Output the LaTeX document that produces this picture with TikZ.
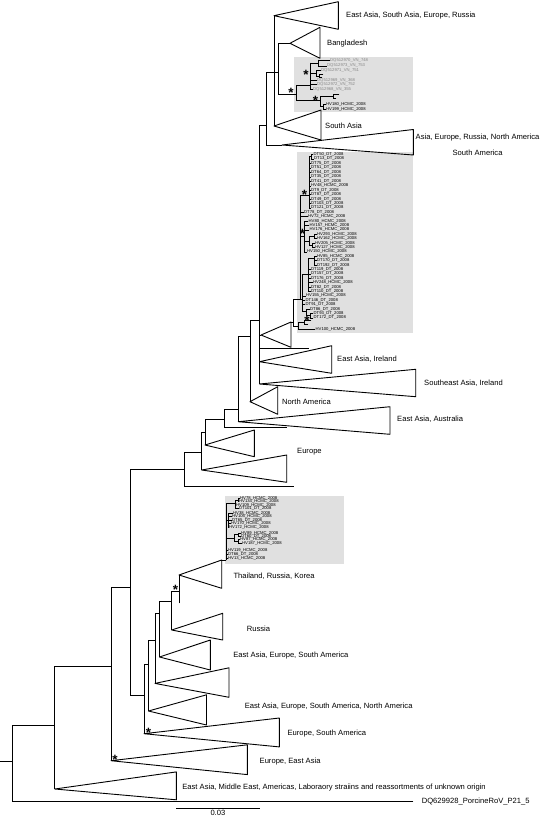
\documentclass[tikz,border=0pt]{standalone}
\usepackage{fontspec}
\setmainfont{Liberation Sans}
\definecolor{boxg}{RGB}{224,224,224}
\definecolor{vng}{RGB}{135,135,135}
\newcommand\myh[3]{\draw[tr] (#1,#3) -- (#2,#3);}
\newcommand\myv[3]{\draw[tr] (#1,#2) -- (#1,#3);}
\newcommand\mysh[3]{\draw[sm] (#1,#3) -- (#2,#3);}
\newcommand\mysv[3]{\draw[sm] (#1,#2) -- (#1,#3);}
\newcommand\mytri[5]{\draw[trg] (#1,#2) -- (#3,#4) -- (#3,#5) -- cycle;}
\newcommand\mystar[3]{\node[astx] (#1) at (#2,#3+7.6) {*};}
\newcommand\slab[4]{\node[slab] (#1) at (#2,#3) {#4};}
\newcommand\glab[4]{\node[slab,text=vng] (#1) at (#2,#3) {#4};}
\tikzset{
  tr/.style={line width=0.9pt, line cap=rect},
  trg/.style={line width=0.9pt, line join=round},
  sm/.style={line width=0.55pt, line cap=rect},
  lab/.style={anchor=west, inner sep=0pt, font=\fontsize{7.6}{16}\selectfont},
  slab/.style={anchor=west, inner sep=0pt, font=\fontsize{4.2}{5}\selectfont},
  astx/.style={anchor=base, inner sep=0pt, font=\fontsize{13.5}{13.5}\selectfont\bfseries}
}
\begin{document}
\begin{tikzpicture}[x=1pt,y=-1pt]
\useasboundingbox (0,0) rectangle (544,816);
% grey boxes
\fill[boxg] (294,57.3) rectangle (413,112.3);
\fill[boxg] (297,152.3) rectangle (413,333);
\fill[boxg] (225,496) rectangle (344,564);
% ---------- root and lower part ----------
\myh{0}{12.1}{761.4}
\myv{12.1}{725}{801.5}
\myh{12.1}{413}{801.5}
\myh{12.1}{54.8}{725}
\myv{54.8}{666}{789}
\mytri{54.8}{789}{176.3}{771.9}{799.8}
\myh{54.8}{111}{666}
\myv{111}{587}{760.7}
\mytri{111}{760.7}{247.4}{744.8}{774.6}
\mystar{sa}{115}{756.5}
\myh{111}{130}{587}
\myv{130}{469}{695.5}
\myh{130}{144}{695.5}
\myv{144}{664.3}{733.7}
\mytri{144}{733.7}{279.3}{718}{746.9}
\mystar{sb}{148.5}{729.5}
\myh{144}{148.5}{664.3}
\myv{148.5}{640}{711}
\mytri{148.5}{711}{206.5}{694.8}{725}
\myh{148.5}{155}{640}
\myv{155}{613}{683.4}
\mytri{155}{683.4}{229}{667.8}{697.3}
\myh{155}{159.5}{613}
\myv{159.5}{601}{657}
\mytri{159.5}{657}{210.3}{640}{670}
\myh{159.5}{171.7}{601}
\myv{171.7}{591}{630}
\mytri{171.7}{630}{222.7}{613.3}{640}
\myh{171.7}{179}{591}
\myv{179}{575}{603}
\mystar{sc}{175.5}{587}
\mytri{179}{575}{221.7}{560}{588.3}
\myh{221.7}{226}{560}
% ---------- middle part ----------
\myh{130}{184.3}{469}
\myv{184.3}{452.3}{486.7}
\myh{184.3}{293.3}{486.7}
\myh{184.3}{201.7}{452.3}
\myv{201.7}{432}{470}
\mytri{201.7}{470}{286.7}{455}{482.3}
\myh{201.7}{205}{432}
\myv{205}{419.3}{445}
\mytri{205}{445}{254.3}{430}{456.7}
\myh{205}{224}{419.3}
\myv{224}{409.3}{427.3}
\myh{224}{286.7}{427.3}
\myh{224}{238.3}{409.3}
\myv{238.3}{336}{421.7}
\mytri{238.3}{421.7}{390}{406.7}{434.3}
\myh{238.3}{250}{336}
\myv{250}{320}{401.7}
\mytri{250}{401.7}{277.7}{386.7}{414.3}
\myh{250}{259.5}{320}
\myv{259.5}{125}{384}
\mytri{259.5}{384}{415.7}{369.3}{396.7}
\mytri{259.5}{361.7}{331.7}{345.7}{373.3}
\myh{259.5}{308.3}{348}
\myh{259.5}{261}{335}
\mytri{261}{335}{291}{322}{347.3}
% ---------- top part ----------
\myh{259.5}{266.7}{125}
\myv{266.7}{72}{145}
\myh{266.7}{282}{145}
\mytri{282}{145}{413.3}{129.5}{155}
\myh{266.7}{278.3}{72}
\myv{274}{15.7}{126}
\mytri{274}{15.7}{338.3}{1.7}{29.3}
\mytri{274}{126}{321}{110}{140}
\myv{278.3}{43.3}{94.3}
\myh{278.3}{290}{43.3}
\mytri{290}{43.3}{320}{27.3}{58.3}
\myh{278.3}{296}{94.3}
\mystar{sd}{291}{89.5}
% ---------- box 1 ----------
\myv{296}{85}{100}
\myh{296}{310}{85}
\mystar{se}{306}{72}
\myv{310}{63}{89}
\mysh{310}{318}{63}
\mysv{318}{60}{66}
\mysh{318}{329.5}{60}
\mysh{318}{326.5}{66}
\mysh{310}{316}{73}
\mysv{316}{70}{76}
\mysh{316}{320.5}{70}
\mysh{316}{319}{76}
\mysv{319}{74.5}{77.5}
\mysh{319}{323}{74.5}
\mysh{319}{322}{77.5}
\mysh{310}{316.5}{80}
\mysh{310}{316.5}{84.5}
\mysh{310}{312.5}{89}
\glab{v1}{330}{60}{DQ512970\_VN\_748}
\glab{v2}{327}{65.5}{DQ512973\_VN\_753}
\glab{v3}{321}{70.5}{DQ512971\_VN\_751}
\glab{v4}{317}{80}{DQ512969\_VN\_368}
\glab{v5}{317}{84.5}{DQ512972\_VN\_752}
\glab{v6}{313}{89}{DQ512968\_VN\_355}
\myh{296}{320}{100}
\mystar{sf}{315.5}{97.5}
\myv{320}{96}{106.5}
\mysh{320}{333}{96}
\mysv{333}{94.5}{98.5}
\mysh{333}{339}{94.5}
\mysh{333}{336}{98.5}
\mysh{320}{323}{106.5}
\mysv{323}{104}{109}
\mysh{323}{325.5}{104}
\mysh{323}{325.5}{109}
\slab{h1}{326}{104}{HV180\_HCMC\_2008}
\slab{h2}{326}{109}{HV199\_HCMC\_2008}
% ---------- box 2 ----------
\myh{291}{293.5}{322}
\myv{293.5}{299}{326}
\myh{293.5}{302}{299}
\myv{300.5}{195}{299}
\myh{300.5}{309}{195}
\mystar{sg}{304.5}{191.5}
\myv{309}{156.5}{207.8}
\mysh{309}{311}{156.5}
\mysv{311}{154.5}{158.8}
\mysh{311}{313}{154.5}
\mysh{311}{313.5}{158.8}
\slab{b1}{313.5}{154.5}{DT50\_DT\_2008}
\slab{b2}{314}{158.8}{DT13\_DT\_2008}
\foreach \yy/\tt [count=\i] in {163.4/DT75\_DT\_2008, 167.9/DT51\_DT\_2008, 172.4/DT64\_DT\_2008, 176.9/DT35\_DT\_2008, 181.4/DT41\_DT\_2008, 185.8/HV48\_HCMC\_2008, 190.2/DT9\_DT\_2008, 194.6/DT87\_DT\_2008, 199.0/DT49\_DT\_2008, 203.4/DT103\_DT\_2008, 207.8/DT121\_DT\_2008}{
  \mysh{309}{310.5}{\yy}
  \slab{c\i}{311}{\yy}{\tt}
}
\mysh{300.5}{303.5}{212.2}
\slab{b14}{304}{212.2}{DT78\_DT\_2008}
\mysh{300.5}{307.5}{216.6}
\slab{b15}{308}{216.6}{HV72\_HCMC\_2008}
\myh{300.5}{304}{236}
\mystar{sh}{302.5}{230.5}
\myv{304}{221}{251.8}
\mysh{304}{308}{221}
\slab{b16}{308.5}{221}{HV80\_HCMC\_2008}
\mysh{304}{309}{225.4}
\slab{b17}{309.5}{225.4}{HV157\_HCMC\_2008}
\mysh{304}{309}{229.8}
\slab{b18}{309.5}{229.8}{HV176\_HCMC\_2008}
\mysh{304}{309}{240.8}
\mysv{309}{236.4}{245.2}
\mysh{309}{314}{236.4}
\mysv{314}{234.2}{238.6}
\mysh{314}{316.5}{234.2}
\mysh{314}{316.5}{238.6}
\slab{b19}{317}{234.2}{HV293\_HCMC\_2008}
\slab{b20}{317}{238.6}{HV162\_HCMC\_2008}
\mysh{309}{312}{245.2}
\mysv{312}{243}{247.4}
\mysh{312}{314.5}{243}
\mysh{312}{314.5}{247.4}
\slab{b21}{315}{243}{HV205\_HCMC\_2008}
\slab{b22}{315}{247.4}{HV127\_HCMC\_2008}
\mysh{304}{306.5}{251.8}
\slab{b23}{307}{251.8}{HV150\_HCMC\_2008}
\myv{302}{274}{311}
\mysh{302}{308}{274}
\mysv{308}{258.4}{291.4}
\mysh{308}{314}{258.4}
\mysv{314}{256.2}{265}
\foreach \yy/\tt [count=\i] in {256.2/HV85\_HCMC\_2008, 260.6/DT170\_DT\_2008, 265.0/DT192\_DT\_2008}{
  \mysh{314}{316.5}{\yy}
  \slab{d\i}{317}{\yy}{\tt}
}
\foreach \yy/\tt [count=\i] in {269.4/DT119\_DT\_2008, 273.8/DT157\_DT\_2008, 278.2/DT176\_DT\_2008, 287.0/DT82\_DT\_2008, 291.4/DT110\_DT\_2008}{
  \mysh{308}{310.5}{\yy}
  \slab{e\i}{311}{\yy}{\tt}
}
\mysh{308}{312.5}{282.6}
\slab{b30}{313}{282.6}{HV248\_HCMC\_2008}
\mysh{302}{305.5}{295.8}
\slab{b33}{306}{295.8}{HV155\_HCMC\_2008}
\mysh{302}{305}{300.2}
\slab{b34}{305.5}{300.2}{DT146\_DT\_2008}
\mysh{302}{305}{304.6}
\slab{b35}{305.5}{304.6}{DT91\_DT\_2008}
\mysh{302}{306}{311}
\mysv{306}{309}{315.6}
\mysh{306}{309.5}{309}
\slab{b36}{310}{309}{DT86\_DT\_2008}
\mysh{306}{310}{315.6}
\mysv{310}{313.4}{317.8}
\mysh{310}{313}{313.4}
\mysh{310}{313}{317.8}
\slab{b37}{313.5}{313.4}{DT93\_DT\_2008}
\slab{b38}{313.5}{317.8}{DT172\_DT\_2008}
\myh{293.5}{298}{326}
\myv{298}{322}{329}
\mysh{298}{304}{322}
\mysv{304}{320.5}{324}
\mysh{304}{311}{320.5}
\mysh{304}{308}{324}
\mystar{si}{307}{318}
\mysh{298}{315}{329}
\slab{b40}{315.5}{329}{HV100\_HCMC\_2008}
% ---------- box 3 ----------
\mysv{226}{503}{560}
\mysh{226}{235}{503}
\mysv{235}{500}{508.3}
\mysh{235}{238}{500}
\mysv{238}{498.3}{501.7}
\mysh{238}{239.5}{498.3}
\mysh{238}{238.5}{501.7}
\slab{k1}{240}{498.3}{HV78\_HCMC\_2008}
\slab{k2}{239}{501.7}{HV134\_HCMC\_2008}
\mysh{235}{235.5}{505}
\slab{k3}{236}{505}{HV109\_HCMC\_2008}
\mysh{235}{238.5}{508.3}
\slab{k4}{239}{508.3}{DT101\_DT\_2008}
\mysh{226}{228}{520}
\mysv{228}{513.3}{527.3}
\foreach \yy/\xx/\tt [count=\i] in {513.3/233/HV38\_HCMC\_2008, 516.7/232/HV105\_HCMC\_2008, 520/232/DT65\_DT\_2008, 523.3/231/HV170\_HCMC\_2008, 527.3/229/HV172\_HCMC\_2008}{
  \mysh{228}{\xx-0.5}{\yy}
  \slab{m\i}{\xx}{\yy}{\tt}
}
\mysh{226}{234}{538}
\mysv{234}{534.6}{541.3}
\mysh{234}{238}{534.6}
\mysv{238}{533.3}{536}
\mysh{238}{240.5}{533.3}
\mysh{238}{240.5}{536}
\slab{k10}{241}{533.3}{HV89\_HCMC\_2008}
\slab{k11}{241}{536.3}{DT60\_DT\_2008}
\mysh{234}{238}{541.3}
\mysv{238}{539.3}{543.3}
\mysh{238}{239.5}{539.3}
\mysh{238}{241.5}{543.3}
\slab{k12}{240}{539.3}{HV87\_HCMC\_2008}
\slab{k13}{242}{543.3}{HV187\_HCMC\_2008}
\foreach \yy/\tt [count=\i] in {550/HV119\_HCMC\_2008, 554/DT66\_DT\_2008, 558/HV13\_HCMC\_2008}{
  \mysh{226}{227.5}{\yy}
  \slab{n\i}{228}{\yy}{\tt}
}
% ---------- labels ----------
\node[lab] (l1) at (346,15.7) {East Asia, South Asia, Europe, Russia};
\node[lab] (l2) at (327,43.3) {Bangladesh};
\node[lab] (l3) at (325,126) {South Asia};
\node[lab,align=center] (l4) at (415.5,145) {Asia, Europe, Russia, North America\\South America};
\node[lab] (l5) at (337,359.5) {East Asia, Ireland};
\node[lab] (l6) at (424,383) {Southeast Asia, Ireland};
\node[lab] (l7) at (282,402) {North America};
\node[lab] (l8) at (397,419) {East Asia, Australia};
\node[lab] (l9) at (297,452) {Europe};
\node[lab] (l10) at (233.3,576) {Thailand, Russia, Korea};
\node[lab] (l11) at (246.7,628.3) {Russia};
\node[lab] (l12) at (233.2,655.6) {East Asia, Europe, South America};
\node[lab] (l13) at (244.6,706.6) {East Asia, Europe, South America, North America};
\node[lab] (l14) at (287.3,733.7) {Europe, South America};
\node[lab] (l15) at (259.5,762) {Europe, East Asia};
\node[lab] (l16) at (182.2,787.5) {East Asia, Middle East, Americas, Laboraory straiins and reassortments of unknown origin};
\node[lab] (l17) at (421.6,801.5) {DQ629928\_PorcineRoV\_P21\_5};
\coordinate (sbl) at (176.3,808);
\coordinate (sbr) at (259.5,808);
\draw[tr] (sbl) -- (sbr);
\node[lab,anchor=center] (l18) at (217.9,813) {0.03};
\end{tikzpicture}
\end{document}
